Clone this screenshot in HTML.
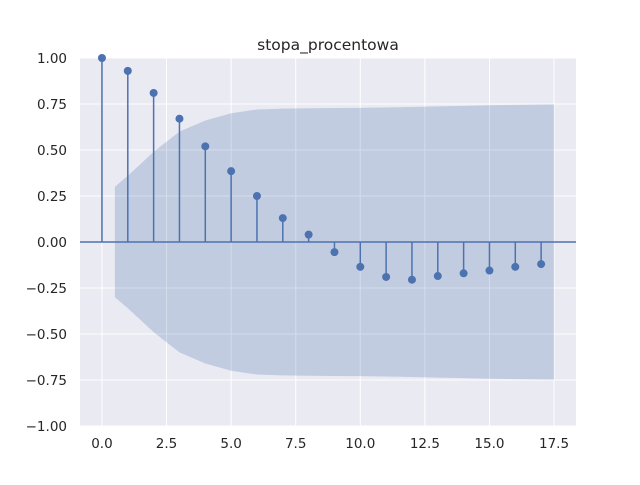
<!DOCTYPE html>
<html><head><meta charset="utf-8"><style>
body{margin:0;background:#fff;}
svg text{font-family:"DejaVu Sans","Liberation Sans",sans-serif;fill:#262626;}
</style></head><body>
<svg id="chart" width="640" height="480"></svg>
<script>
const lags=[0,1,2,3,4,5,6,7,8,9,10,11,12,13,14,15,16,17];
const acfValues=[1.0,0.93,0.81,0.67,0.52,0.385,0.25,0.13,0.04,-0.055,-0.135,-0.19,-0.205,-0.185,-0.17,-0.155,-0.135,-0.12];
const confLags=[0.5,1,2,3,4,5,6,7,8,9,10,11,12,13,14,15,16,17,17.5];
const confUpper=[0.30,0.36,0.49,0.60,0.66,0.70,0.72,0.725,0.727,0.728,0.729,0.731,0.734,0.737,0.740,0.743,0.745,0.747,0.748];
const xTicks=[0,2.5,5,7.5,10,12.5,15,17.5];
const xTickLabels=["0.0","2.5","5.0","7.5","10.0","12.5","15.0","17.5"];
const yTicks=[-1,-0.75,-0.5,-0.25,0,0.25,0.5,0.75,1];
const yTickLabels=["\u22121.00","\u22120.75","\u22120.50","\u22120.25","0.00","0.25","0.50","0.75","1.00"];
const L=80,R=576,T=58,B=426,xmin=-0.85,xmax=18.35;
const X=v=>L+(v-xmin)/(xmax-xmin)*(R-L);
const Y=v=>T+(1-v)/2*(B-T);
const svg=document.getElementById('chart');
const NS='http://www.w3.org/2000/svg';
function mk(tag,attrs,parent){const e=document.createElementNS(NS,tag);for(const k in attrs)e.setAttribute(k,attrs[k]);(parent||svg).appendChild(e);return e;}
let e=mk('rect',{x:L,y:T,width:R-L,height:B-T,fill:'#eaeaf2'});


xTicks.forEach((t,i)=>{
 let g=mk('line',{x1:X(t),x2:X(t),y1:T,y2:B,stroke:'#fff','stroke-width':1});
 
 
 let tx=mk('text',{x:X(t),y:B+22,'text-anchor':'middle','font-size':13.5});
 tx.textContent=xTickLabels[i];
 
 
});
yTicks.forEach((t,i)=>{
 let g=mk('line',{x1:L,x2:R,y1:Y(t),y2:Y(t),stroke:'#fff','stroke-width':1});
 
 
 let tx=mk('text',{x:L-13,y:Y(t)+5,'text-anchor':'end','font-size':13.5});
 tx.textContent=yTickLabels[i];
 
 
});
let pts=confLags.map((l,i)=>X(l)+','+Y(confUpper[i]));
let low=confLags.map((l,i)=>X(l)+','+Y(-confUpper[i])).reverse();
let band=mk('polygon',{points:pts.concat(low).join(' '),fill:'#4c72b0','fill-opacity':0.25});


let zl=mk('line',{x1:L,x2:R,y1:Y(0),y2:Y(0),stroke:'#4c72b0','stroke-width':1.5});


lags.forEach((l,i)=>{
 let s=mk('line',{x1:X(l),x2:X(l),y1:Y(0),y2:Y(acfValues[i]),stroke:'#4c72b0','stroke-width':1.5});
 
 
 let c=mk('circle',{cx:X(l),cy:Y(acfValues[i]),r:4,fill:'#4c72b0'});
 
 
});
let title=mk('text',{x:(L+R)/2,y:50,'text-anchor':'middle','font-size':15.5});
title.textContent='stopa_procentowa';


</script>
</body></html>
